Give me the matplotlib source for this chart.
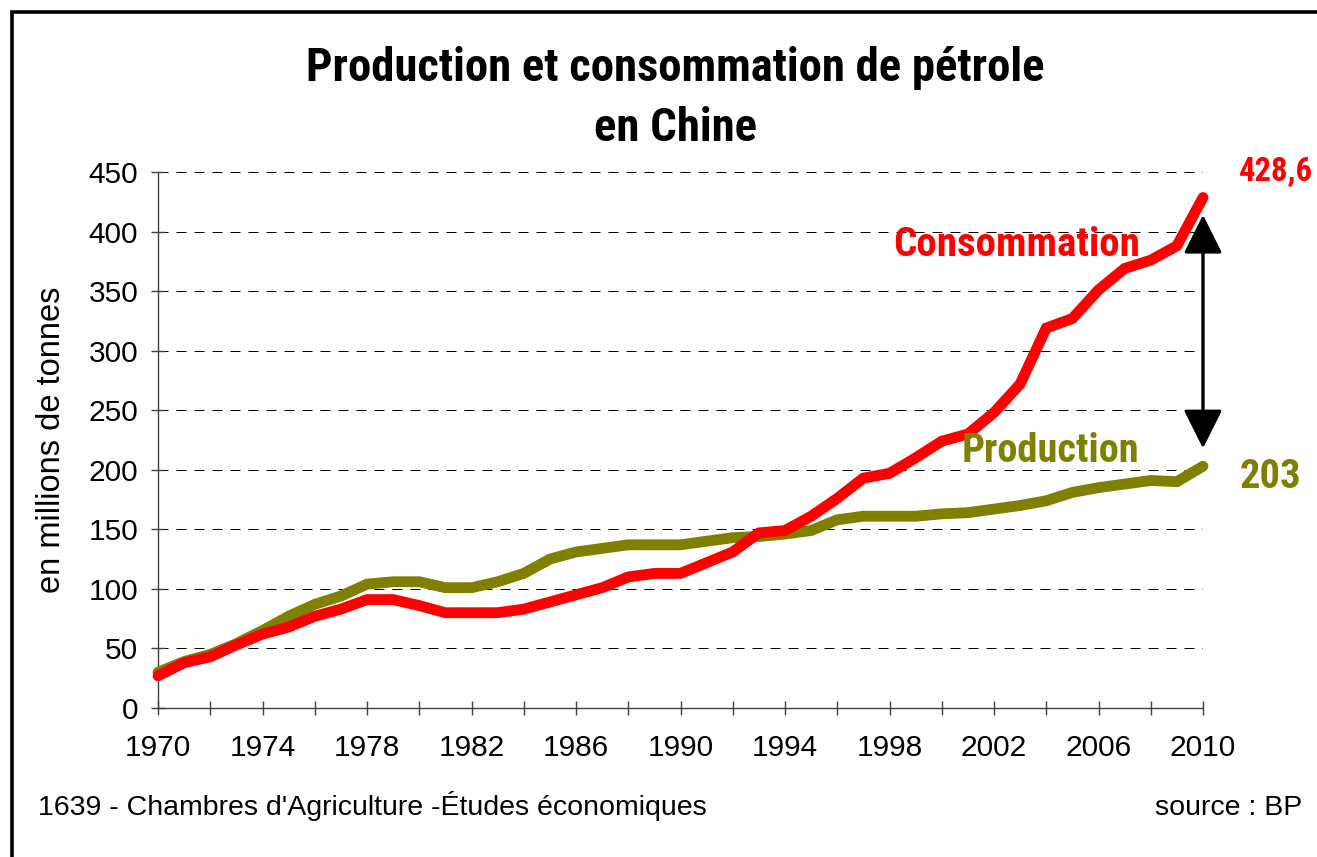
import matplotlib
matplotlib.use("Agg")
import matplotlib.pyplot as plt
from matplotlib.patches import Rectangle
from matplotlib import font_manager as fm

years = list(range(1970, 2011))
consommation = [27, 38, 43, 53, 62, 68, 77, 83, 91, 91, 86, 80, 80, 80, 83, 89, 95, 101,
                110, 113, 113, 122, 131, 147, 149, 161, 176, 193, 197, 210, 224, 230, 248,
                272, 319, 327, 351, 369, 376, 388, 428.6]
production = [30, 39, 45, 54, 65, 77, 87, 94, 104, 106, 106, 101, 101, 106, 113, 125, 131,
              134, 137, 137, 137, 140, 143, 144, 146, 149, 158, 161, 161, 161, 163, 164,
              167, 170, 174, 181, 185, 188, 191, 190, 203]
y_ticks = [0, 50, 100, 150, 200, 250, 300, 350, 400, 450]
x_tick_labels = [1970, 1974, 1978, 1982, 1986, 1990, 1994, 1998, 2002, 2006, 2010]

title_l1 = "Production et consommation de pétrole"
title_l2 = "en Chine"
ylabel = "en millions de tonnes"
footer_left = "1639 - Chambres d'Agriculture -Études économiques"
footer_right = "source : BP"
last_cons_label = "428,6"
last_prod_label = "203"

W, H = 1317, 857
fig = plt.figure(figsize=(W / 100, H / 100), dpi=100)
fig.patch.set_facecolor("white")
renderer = fig.canvas.get_renderer()


def fx(px):
    return px / W


def fy(py):
    return 1 - py / H


def find_narrow_bold():
    prefs = ["liberation sans narrow", "arial narrow", "roboto condensed",
             "dejavu sans condensed", "noto sans condensed", "open sans condensed"]
    cands = []
    for f in fm.fontManager.ttflist:
        fname = f.fname.lower()
        name = f.name.lower()
        cond = ("narrow" in fname or "condensed" in fname or "narrow" in name
                or "condensed" in name or f.stretch in ("condensed", "semi-condensed"))
        if not cond:
            continue
        w = f.weight if isinstance(f.weight, int) else 700 if "bold" in str(f.weight) else 400
        if "italic" in fname or "oblique" in fname or f.style != "normal":
            continue
        score = 0
        for i, p in enumerate(prefs):
            if p.replace(" ", "") in fname.replace("-", "").replace("_", "") or p in name:
                score = 10 - i
        cands.append((score, -abs(w - 700), f.fname))
    if cands:
        cands.sort(reverse=True)
        return fm.FontProperties(fname=cands[0][2])
    return fm.FontProperties(family=["Liberation Sans", "DejaVu Sans"], weight="bold")


narrow_bold = find_narrow_bold()
arial = fm.FontProperties(family=["Liberation Sans", "DejaVu Sans"])


def fitted_text(x_px, y_px, s, target_w, ha="left", va="baseline", color="black", fp=None):
    fp = (fp or narrow_bold).copy()
    fp.set_size(30)
    t = fig.text(fx(x_px), fy(y_px), s, ha=ha, va=va, color=color, fontproperties=fp)
    w = t.get_window_extent(renderer=renderer).width
    fp.set_size(30 * target_w / w)
    t.set_fontproperties(fp)
    return t


# outer frame
fig.patches.append(Rectangle((fx(11.5), -0.2), 2.0, fy(11.5) + 0.2, transform=fig.transFigure,
                             fill=False, edgecolor="black", linewidth=2.6, zorder=0))

ax = fig.add_axes([fx(158), fy(708), fx(1203) - fx(158), fy(172) - fy(708)])
ax.set_xlim(1970, 2010)
ax.set_ylim(0, 450)

ax.plot(years, production, color="#808000", lw=7.8, solid_capstyle="round",
        solid_joinstyle="miter", zorder=3, clip_on=False)
ax.plot(years, consommation, color="#FF0000", lw=7.8, solid_capstyle="round",
        solid_joinstyle="miter", zorder=4, clip_on=False)

for s in ["top", "right"]:
    ax.spines[s].set_visible(False)
for s in ["left", "bottom"]:
    ax.spines[s].set_color("#404040")
    ax.spines[s].set_linewidth(1.0)

tick_fp = arial.copy()
tick_fp.set_size(21.5)
ax.set_yticks(y_ticks)
ax.set_yticklabels([str(v) for v in y_ticks], fontproperties=tick_fp)
xt = list(range(1970, 2011, 2))
ax.set_xticks(xt)
ax.set_xticklabels([str(v) if v in x_tick_labels else "" for v in xt], fontproperties=tick_fp)
ax.tick_params(axis="y", direction="inout", length=10.5, width=1.0, color="#404040", pad=9)
ax.tick_params(axis="x", direction="inout", length=10, width=1.0, color="#404040", pad=14)

ax.yaxis.grid(True, color="black", linewidth=0.72, linestyle=(0, (10, 8)))
ax.set_axisbelow(True)
ax.set_facecolor("none")

yl_fp = arial.copy()
yl_fp.set_size(23.5)
fig.text(fx(52), fy(440), ylabel, rotation=90, ha="center", va="center", fontproperties=yl_fp)

t1 = fitted_text(675, 68, title_l1, 740, ha="center", va="center")
fp2 = t1.get_fontproperties()
fig.text(fx(675), fy(128), title_l2, ha="center", va="center", fontproperties=fp2)

fitted_text(893, 256, "Consommation", 247, color="#FF0000")
tp = fitted_text(962, 462, "Production", 178, color="#808000")
lab_fp = tp.get_fontproperties()
fitted_text(1239, 181, last_cons_label, 74, color="#FF0000")
fig.text(fx(1240), fy(488), last_prod_label, ha="left", va="baseline",
         fontproperties=lab_fp, color="#808000")

foot_fp = arial.copy()
foot_fp.set_size(20.5)
fig.text(fx(38), fy(815), footer_left, ha="left", va="baseline", fontproperties=foot_fp)
fig.text(fx(1302), fy(815), footer_right, ha="right", va="baseline", fontproperties=foot_fp)

# double-headed gap arrow
ax.annotate("", xy=(2010, 414), xytext=(2010, 218), xycoords="data",
            arrowprops=dict(arrowstyle="<|-|>,head_length=2.4,head_width=1.2",
                            color="black", lw=2.4, shrinkA=0, shrinkB=0),
            annotation_clip=False, zorder=5)

fig.savefig("out.png", dpi=100)
